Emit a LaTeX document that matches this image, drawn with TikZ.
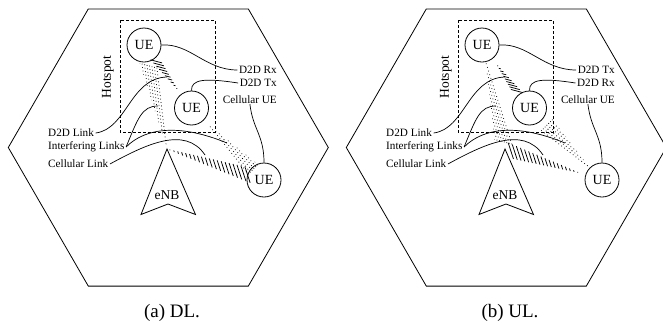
\documentclass[tikz,border=0pt]{standalone}
\usepackage{fontspec}
\setmainfont{Liberation Serif}
\usetikzlibrary{calc}
\tikzset{
  ue/.style={circle, draw, line width=0.8pt, minimum size=34pt, inner sep=0pt, font=\fontsize{14}{16}\selectfont},
  lbl/.style={inner xsep=1.5pt, inner ysep=0pt, font=\fontsize{11.2}{13}\selectfont},
  bigtxt/.style={inner sep=0pt, font=\fontsize{13.5}{15}\selectfont},
  captxt/.style={inner sep=0pt, font=\fontsize{19}{21}\selectfont},
  note/.style={line width=0.7pt},
  outline/.style={line width=0.8pt},
  hatch/.style={line width=0.75pt},
  dots/.style={line width=0.75pt, dash pattern=on 0.75pt off 1.8pt},
  hot/.style={line width=0.7pt, dash pattern=on 3pt off 2pt},
}
\newcommand{\beam}[9]{%
  \foreach \k in {0,...,#7}{%
    \pgfmathsetmacro\bt{#3+(#4-#3)*\k/#7}%
    \pgfmathsetmacro\bh{#5+(#6-#5)*\k/#7}%
    \draw[#9] ($(#1)!\bt!(#2)+(#8:\bh)$) -- ($(#1)!\bt!(#2)-(#8:\bh)$);
  }}
\newcommand{\panel}[4]{%
  \draw[outline] (8.3,147.5) -- (88.3,8.9) -- (248.3,8.9) -- (328.3,147.5) -- (248.3,286.1) -- (88.3,286.1) -- cycle;
  \draw[hot] (120,20) rectangle (215,132);
  \node[bigtxt, rotate=90] (#1hot) at (108,77) {Hotspot};
  \node[ue] (#1uA) at (144,45) {UE};
  \node[ue] (#1uB) at (191.5,108) {UE};
  \node[ue] (#1uC) at (264,180) {UE};
  \draw[outline] (167,149) -- (195.5,214.5) -- (168,204) -- (141,214.5) -- cycle;
  \coordinate (#1tip) at (167,149);
  \node[bigtxt] (#1enb) at (167,195) {eNB};
  \node[lbl, anchor=east] (#1l1) at (278.5,70) {#2};
  \node[lbl, anchor=east] (#1l2) at (278.5,83) {#3};
  \node[lbl, anchor=east] (#1l3) at (278.5,100) {Cellular UE};
  \node[lbl, anchor=west] (#1l4) at (46.5,133) {D2D Link};
  \node[lbl, anchor=west] (#1l5) at (46.5,147) {Interfering Links};
  \node[lbl, anchor=west] (#1l6) at (46.5,164) {Cellular Link};
  \node[captxt] (#1cap) at (172,313) {#4};
  \coordinate (#1pD) at (167,77);
  \coordinate (#1pI1) at (158,106);
  \coordinate (#1pI2) at (227,143);
  \coordinate (#1pC) at (205,155);
  \draw[note] (#1uA.east) .. controls (190,43) and (205,70) .. (#1l1.west);
  \draw[note] (#1uB.north) .. controls (191,79) and (205,78) .. (#1l2.west);
  \draw[note] (#1l3.south) .. controls (253,130) and (264,135) .. (#1uC.north);
  \draw[note] (#1l4.east) .. controls (127,129) and (130,78) .. (#1pD);
  \draw[note] (#1l5.east) .. controls (138,118) and (142,106) .. (#1pI1);
  \draw[note] (#1l5.east) .. controls (146,127) and (181,124) .. (#1pI2);
  \draw[note] (#1l6.east) .. controls (145,145) and (185,125) .. (#1pC);
}
\begin{document}
\begin{tikzpicture}[x=1pt, y=-1pt]
\useasboundingbox (0,0) rectangle (663,322);
\panel{a}{D2D Rx}{D2D Tx}{(a) DL.}
\begin{scope}[xshift=338pt]
\panel{b}{D2D Tx}{D2D Rx}{(b) UL.}
\end{scope}
% DL beams
\beam{auA}{auB}{0.26}{0.69}{6}{0.4}{9}{15}{hatch}
\beam{atip}{auC}{0.03}{0.83}{0.4}{8.5}{19}{72}{hatch}
\beam{atip}{auA}{0.05}{0.8}{0.5}{9}{22}{15}{dots}
\beam{auB}{auC}{0.26}{0.85}{0.5}{7}{16}{135}{dots}
% UL beams
\beam{buA}{buB}{0.33}{0.73}{0.4}{6}{9}{15}{hatch}
\beam{btip}{buC}{0.06}{0.75}{8.5}{0.4}{17}{72}{hatch}
\beam{buA}{btip}{0.18}{0.93}{0.5}{9}{22}{15}{dots}
\beam{buC}{buB}{0.2}{0.76}{0.5}{8}{16}{135}{dots}
\end{tikzpicture}
\end{document}
